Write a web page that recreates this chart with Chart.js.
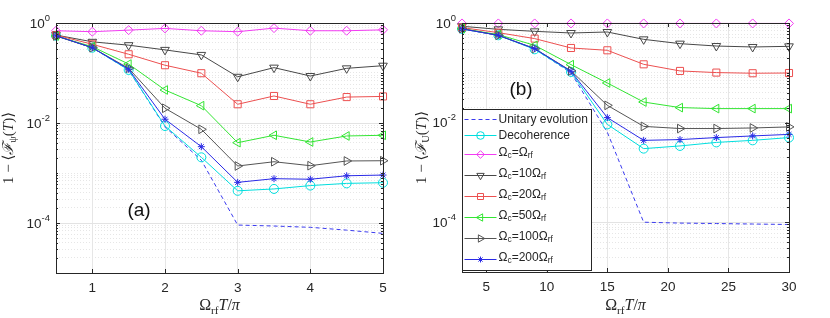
<!DOCTYPE html>
<html>
<head>
<meta charset="utf-8">
<script src="https://cdn.jsdelivr.net/npm/chart.js@4.4.0/dist/chart.umd.min.js"></script>
<style>
  body { margin: 0; background: #fff; }
  #wrap { position: relative; width: 830px; height: 318px; }
  .panel { position: absolute; top: 0; width: 415px; height: 318px; }
</style>
</head>
<body>
<div id="wrap">
  <div class="panel" style="left:0"><canvas id="chartA"></canvas></div>
  <div class="panel" style="left:415px"><canvas id="chartB"></canvas></div>
</div>
<script>
// ---- data ----
var seriesLabels = ['Unitary evolution', 'Decoherence', 'Ω_c=Ω_rf', 'Ω_c=10Ω_rf',
                    'Ω_c=20Ω_rf', 'Ω_c=50Ω_rf', 'Ω_c=100Ω_rf', 'Ω_c=200Ω_rf'];

// panel (a): 1 - <F_psi(T)>
var xA = [0.5, 1, 1.5, 2, 2.5, 3, 3.5, 4, 4.5, 5];
var xTicksA = [1, 2, 3, 4, 5];
var unitaryA = [0.56, 0.32, 0.115, 0.0084, 0.0018, 9.1e-5, 8.7e-5, 8.2e-5, 7.2e-5, 6.2e-5];
var decohA   = [0.557, 0.32, 0.115, 0.0087, 0.00206, 0.00044, 0.00048, 0.00056, 0.00062, 0.00064];
var c1A      = [0.70, 0.67, 0.72, 0.78, 0.70, 0.67, 0.79, 0.70, 0.70, 0.73];
var c10A     = [0.575, 0.42, 0.36, 0.29, 0.23, 0.084, 0.128, 0.087, 0.124, 0.14];
var c20A     = [0.575, 0.375, 0.237, 0.143, 0.099, 0.0237, 0.0347, 0.0237, 0.033, 0.034];
var c50A     = [0.55, 0.336, 0.151, 0.0457, 0.0222, 0.00404, 0.00568, 0.00417, 0.0055, 0.00568];
var c100A    = [0.55, 0.32, 0.124, 0.0197, 0.00748, 0.00138, 0.00168, 0.0014, 0.00174, 0.00176];
var c200A    = [0.557, 0.32, 0.119, 0.0119, 0.00336, 0.00065, 0.00077, 0.00075, 0.00088, 0.00091];

// panel (b): 1 - <F_U(T)>
var xB = [3, 6, 9, 12, 15, 18, 21, 24, 27, 30];
var xTicksB = [5, 10, 15, 20, 25, 30];
var unitaryB = [0.76, 0.566, 0.30, 0.10, 0.0064, 1.0e-4, 9.6e-5, 9.4e-5, 9.2e-5, 9.0e-5];
var decohB   = [0.76, 0.566, 0.296, 0.104, 0.0092, 0.003, 0.0034, 0.004, 0.0044, 0.005];
var c1B      = [0.98, 0.98, 0.98, 0.98, 0.98, 0.98, 0.98, 0.98, 0.98, 0.98];
var c10B     = [0.86, 0.746, 0.68, 0.63, 0.66, 0.47, 0.385, 0.345, 0.33, 0.34];
var c20B     = [0.81, 0.64, 0.486, 0.315, 0.283, 0.148, 0.109, 0.101, 0.098, 0.099];
var c50B     = [0.77, 0.585, 0.356, 0.146, 0.0624, 0.0259, 0.02, 0.0191, 0.0191, 0.0191];
var c100B    = [0.77, 0.566, 0.306, 0.109, 0.0222, 0.0084, 0.0076, 0.0076, 0.0078, 0.0082];
var c200B    = [0.76, 0.566, 0.306, 0.107, 0.0126, 0.0044, 0.00456, 0.005, 0.0054, 0.0058];

var yLabelExps = [0, -2, -4];   // labelled decades

// line / marker look for each series (same order as seriesLabels)
var styles = [
  { color: '#3b3bef', dash: [4, 3], point: 'circle', rot: 0, r: 0 },
  { color: '#00dede', dash: [], point: 'circle', rot: 0, r: 4.5 },
  { color: '#f23cf2', dash: [], point: 'rectRot', rot: 0, r: 4.5 },
  { color: '#484848', dash: [], point: 'triangle', rot: 180, r: 5 },
  { color: '#ec5050', dash: [], point: 'rect', rot: 0, r: 5 },
  { color: '#33e533', dash: [], point: 'triangle', rot: 270, r: 5 },
  { color: '#555555', dash: [], point: 'triangle', rot: 90, r: 5 },
  { color: '#2a2ae6', dash: [], point: 'star', rot: 0, r: 3.5 }
];

var SANS = '"Liberation Sans", Arial, sans-serif';
var SERIF = '"Liberation Serif", "DejaVu Serif", serif';

function partFont(p, fam, size) {
  var small = (p[1] === 'sub' || p[1] === 'sup');
  var sz = small ? size * 0.7 : size;
  return (p[1] === 'i' ? 'italic ' : '') + sz + 'px ' + fam;
}

// draws text made of [text, style] parts; style n / i / sub / sup
function drawRich(ctx, parts, x, y, align, fam, size) {
  ctx.save();
  ctx.textBaseline = 'middle';
  ctx.textAlign = 'left';
  ctx.fillStyle = '#262626';
  var w = 0;
  parts.forEach(function(p) { ctx.font = partFont(p, fam, size); w += ctx.measureText(p[0]).width; });
  var cx = align === 'center' ? x - w / 2 : (align === 'right' ? x - w : x);
  parts.forEach(function(p) {
    ctx.font = partFont(p, fam, size);
    var dy = p[1] === 'sub' ? size * 0.3 : (p[1] === 'sup' ? -size * 0.45 : 0);
    ctx.fillText(p[0], cx, y + dy);
    cx += ctx.measureText(p[0]).width;
  });
  ctx.restore();
}

function labelParts(str) {
  var bits = str.split(/_([a-z]+)/);
  var out = [];
  bits.forEach(function(b, i) { if (b) out.push([b, i % 2 ? 'sub' : 'n']); });
  return out;
}

function isLabelled(v) {
  var e = Math.log10(v);
  return Math.abs(e - Math.round(e)) < 1e-6 && yLabelExps.indexOf(Math.round(e)) >= 0;
}

function makeDatasets(xs, ys) {
  return ys.map(function(vals, i) {
    var st = styles[i];
    return {
      label: seriesLabels[i],
      data: vals.map(function(v, j) { return { x: xs[j], y: v }; }),
      borderColor: st.color,
      backgroundColor: 'rgba(0,0,0,0)',
      borderWidth: 1,
      borderDash: st.dash,
      pointStyle: st.point,
      pointRotation: st.rot,
      pointRadius: st.r,
      pointBorderWidth: 1,
      pointBorderColor: st.color,
      pointBackgroundColor: 'rgba(0,0,0,0)',
      tension: 0,
      clip: false,
      order: 10 - i
    };
  });
}

function drawLegend(chart) {
  var ctx = chart.ctx;
  var bx = 47.5, by = 109.5, bw = 129, bh = 161;
  ctx.save();
  ctx.fillStyle = '#fff';
  ctx.fillRect(bx, by, bw, bh);
  ctx.strokeStyle = '#262626';
  ctx.lineWidth = 1;
  ctx.strokeRect(bx, by, bw, bh);
  var yy = by + 1.5;
  chart.data.datasets.forEach(function(ds) {
    var parts = labelParts(ds.label);
    var hasSub = parts.length > 1;
    var h = hasSub ? 21 : 16;
    var cy = Math.round(yy + h / 2) + 0.5;
    ctx.strokeStyle = ds.borderColor;
    ctx.lineWidth = 1;
    ctx.setLineDash(ds.borderDash || []);
    ctx.beginPath();
    ctx.moveTo(bx + 2, cy);
    ctx.lineTo(bx + 34, cy);
    ctx.stroke();
    ctx.setLineDash([]);
    if (ds.pointRadius > 0 && Chart.helpers && Chart.helpers.drawPoint) {
      ctx.fillStyle = 'rgba(0,0,0,0)';
      Chart.helpers.drawPoint(ctx, {
        pointStyle: ds.pointStyle, rotation: ds.pointRotation,
        radius: ds.pointRadius * 0.85, borderWidth: 1
      }, bx + 18, cy);
    }
    drawRich(ctx, parts, bx + 36, cy - (hasSub ? 2 : 0), 'left', SANS, 12);
    yy += h;
  });
  ctx.restore();
}

function panelPlugin(cfg) {
  return {
    id: 'panelDecor' + cfg.tag,
    afterDatasetsDraw: function(chart) {
      var ctx = chart.ctx, a = chart.chartArea;
      var xs = chart.scales.x, ys = chart.scales.y;
      ctx.save();
      ctx.strokeStyle = '#262626';
      ctx.lineWidth = 1;
      // inward tick marks
      ys.ticks.forEach(function(t) {
        var len = isLabelled(t.value) ? 4 : 2;
        var py = Math.round(ys.getPixelForValue(t.value)) + 0.5;
        ctx.beginPath();
        ctx.moveTo(a.left, py); ctx.lineTo(a.left + len, py);
        ctx.moveTo(a.right, py); ctx.lineTo(a.right - len, py);
        ctx.stroke();
      });
      xs.ticks.forEach(function(t) {
        var px = Math.round(xs.getPixelForValue(t.value)) + 0.5;
        ctx.beginPath();
        ctx.moveTo(px, a.bottom); ctx.lineTo(px, a.bottom - 4);
        ctx.moveTo(px, a.top); ctx.lineTo(px, a.top + 4);
        ctx.stroke();
      });
      ctx.strokeRect(Math.round(a.left) + 0.5, Math.round(a.top) + 0.5,
                     Math.round(a.right - a.left), Math.round(a.bottom - a.top));
      ctx.restore();

      // y tick labels 10^k
      yLabelExps.forEach(function(e) {
        var py = ys.getPixelForValue(Math.pow(10, e));
        drawRich(ctx, [['10', 'n'], [String(e), 'sup']], a.left - 6, py + 1, 'right', SANS, 13.5);
      });

      // axis titles
      drawRich(ctx, [['Ω', 'n'], ['rf', 'sub'], ['T', 'i'], ['/', 'n'], ['π', 'i']],
               (a.left + a.right) / 2, 306, 'center', SERIF, 16);
      ctx.save();
      ctx.translate(cfg.yTitleX, (a.top + a.bottom) / 2);
      ctx.rotate(-Math.PI / 2);
      drawRich(ctx, cfg.yTitle, 0, 0, 'center', SERIF, 15);
      ctx.restore();

      // panel tag
      ctx.save();
      ctx.fillStyle = '#111';
      ctx.font = '19px ' + SANS;
      ctx.textAlign = 'center';
      ctx.textBaseline = 'middle';
      ctx.fillText(cfg.tag, cfg.tagX, cfg.tagY);
      ctx.restore();

      if (cfg.legend) drawLegend(chart);
    }
  };
}

function makeChart(id, xs, ys, xTicks, xMin, xMax, cfg) {
  return new Chart(document.getElementById(id).getContext('2d'), {
    type: 'line',
    data: { datasets: makeDatasets(xs, ys) },
    options: {
      responsive: true,
      maintainAspectRatio: false,
      animation: false,
      layout: { padding: { left: 0, top: 23, right: cfg.padRight, bottom: 0 } },
      plugins: { legend: { display: false }, tooltip: { enabled: false } },
      scales: {
        x: {
          type: 'linear',
          min: xMin,
          max: xMax,
          afterBuildTicks: function(s) { s.ticks = xTicks.map(function(v) { return { value: v }; }); },
          afterFit: function(s) { s.height = cfg.xHeight; },
          grid: { color: '#e6e6e6', lineWidth: 1, drawTicks: false },
          border: { display: false },
          ticks: { font: { family: SANS, size: 13.5 }, color: '#262626', padding: 7, maxRotation: 0 }
        },
        y: {
          type: 'logarithmic',
          min: 1e-5,
          max: 1,
          afterBuildTicks: function(s) {
            var t = [];
            for (var e = -5; e <= 0; e++) {
              for (var m = 1; m <= 9; m++) {
                var v = m * Math.pow(10, e);
                if (v <= 1.0000001) t.push({ value: v });
              }
            }
            s.ticks = t;
          },
          afterFit: function(s) { s.width = cfg.yWidth; },
          ticks: { display: false },
          grid: {
            drawTicks: false,
            lineWidth: 1,
            color: function(c) { return isLabelled(c.tick.value) ? '#e3e3e3' : '#e6e6e6'; }
          },
          border: {
            display: false,
            dash: function(c) { return isLabelled(c.tick.value) ? [] : [1, 2]; }
          }
        }
      }
    },
    plugins: [panelPlugin(cfg)]
  });
}

var chartA = makeChart('chartA', xA,
  [unitaryA, decohA, c1A, c10A, c20A, c50A, c100A, c200A], xTicksA, 0.5, 5, {
    tag: '(a)', tagX: 139, tagY: 211, legend: false,
    padRight: 32, xHeight: 45, yWidth: 56, yTitleX: 9,
    yTitle: [['1 − ⟨', 'n'], ['ℱ', 'i'], ['ψ', 'sub'], ['(', 'n'], ['T', 'i'], [')⟩', 'n']]
  });

var chartB = makeChart('chartB', xB,
  [unitaryB, decohB, c1B, c10B, c20B, c50B, c100B, c200B], xTicksB, 3, 30, {
    tag: '(b)', tagX: 106, tagY: 90, legend: true,
    padRight: 41, xHeight: 46, yWidth: 47, yTitleX: 7,
    yTitle: [['1 − ⟨', 'n'], ['ℱ', 'i'], ['U', 'sub'], ['(', 'n'], ['T', 'i'], [')⟩', 'n']]
  });
</script>
</body>
</html>
